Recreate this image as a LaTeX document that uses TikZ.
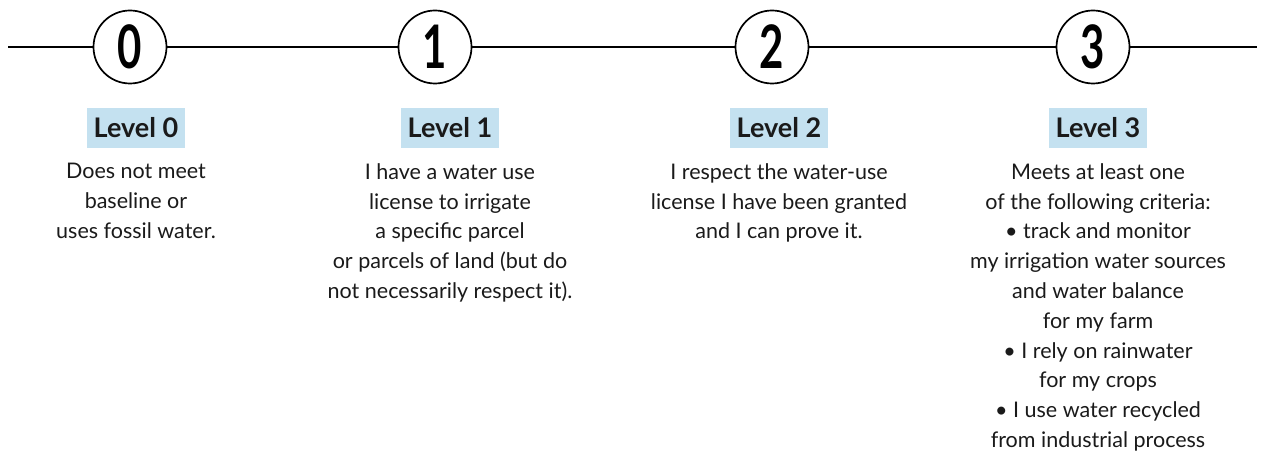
\documentclass[tikz,border=0pt]{standalone}
\usepackage{fontspec}
\setmainfont{Lato}
\usepackage{graphicx}
\usetikzlibrary{positioning}
\definecolor{lvlFill}{HTML}{C4E1F0}
\definecolor{ink}{HTML}{1A1A1A}
\newcommand{\stagenum}[1]{\scalebox{0.7}[1]{#1}}

\begin{document}
\begin{tikzpicture}[x=1pt,y=1pt,stage/.style={draw, circle, line width=1.7pt, minimum size=73pt, inner sep=0pt, font=\fontsize{60}{60}\selectfont\bfseries},lvl/.style={fill=lvlFill, minimum height=40pt, inner xsep=7pt, inner ysep=0pt, font=\fontsize{27}{27}\selectfont\bfseries, text=ink},desc/.style={align=center, inner sep=0pt, font=\fontsize{21.5}{29.8}\selectfont, text=ink},track/.style={line width=1.7pt}]
\useasboundingbox (0,0) rectangle (1264,470);
\coordinate (lineL) at (8,423);
\coordinate (lineR) at (1257,423);
\node[stage] (s0) at (130,423) {\stagenum{0}};
\node[stage] (s1) at (435,423) {\stagenum{1}};
\node[stage] (s2) at (772,423) {\stagenum{2}};
\node[stage] (s3) at (1093,423) {\stagenum{3}};
\draw[track] (lineL)--(s0); \draw[track] (s0)--(s1); \draw[track] (s1)--(s2); \draw[track] (s2)--(s3); \draw[track] (s3)--(lineR);
% level tags
\node[lvl] (l0) at (136,342) {Level 0};
\node[lvl] (l1) at (450,342) {Level 1};
\node[lvl] (l2) at (779,342) {Level 2};
\node[lvl] (l3) at (1098,342) {Level 3};
% descriptions
\node[desc, below=15pt of l0] (d0) {Does not meet\\baseline or\\uses fossil water.};
\node[desc, below=15pt of l1] (d1) {I have a water use\\license to irrigate\\a specific parcel\\or parcels of land (but do\\not necessarily respect it).};
\node[desc, below=15pt of l2] (d2) {I respect the water-use\\license I have been granted\\and I can prove it.};
\node[desc, below=15pt of l3] (d3) {Meets at least one\\of the following criteria:\\• track and monitor\\my irrigation water sources\\and water balance\\for my farm\\• I rely on rainwater\\for my crops\\• I use water recycled\\from industrial process};
\end{tikzpicture}
\end{document}
